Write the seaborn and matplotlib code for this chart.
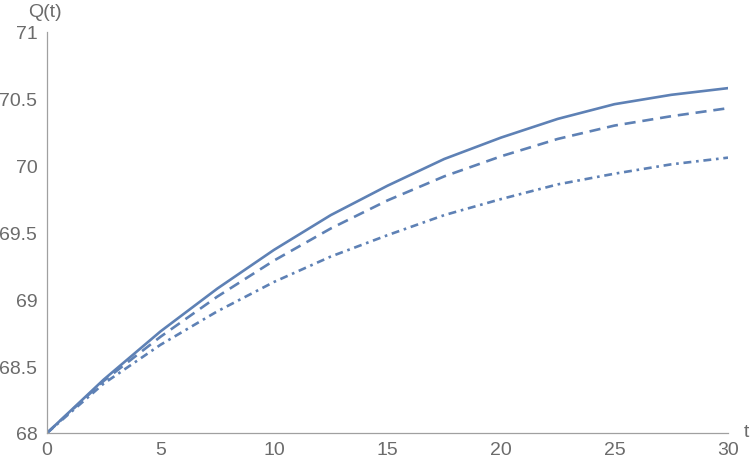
import matplotlib
matplotlib.use("Agg")
import matplotlib.pyplot as plt
import numpy as np
import pandas as pd
import seaborn as sns

# values
t_vals = [0, 2.5, 5, 7.5, 10, 12.5, 15, 17.5, 20, 22.5, 25, 27.5, 30]
q_solid = [68.00, 68.40, 68.76, 69.08, 69.37, 69.63, 69.85, 70.05, 70.21, 70.35, 70.46, 70.53, 70.58]
q_dashed = [68.00, 68.39, 68.72, 69.02, 69.29, 69.53, 69.74, 69.92, 70.07, 70.20, 70.30, 70.37, 70.43]
q_dashdot = [68.00, 68.37, 68.66, 68.91, 69.13, 69.32, 69.48, 69.63, 69.75, 69.86, 69.94, 70.01, 70.06]

x_ticks = [0, 5, 10, 15, 20, 25, 30]
y_ticks = [68, 68.5, 69, 69.5, 70, 70.5, 71]
y_labels = ["68", "68.5", "69", "69.5", "70", "70.5", "71"]

line_color = "#5e81b5"
axis_color = "#a0a0a0"
text_color = "#6b6b6b"

sns.set_style("white")
plt.rcParams['font.family'] = ['Liberation Sans', 'DejaVu Sans']

df = pd.DataFrame({'t': t_vals, 'solid': q_solid, 'dashed': q_dashed, 'dashdot': q_dashdot})

fig = plt.figure(figsize=(7.51, 4.60), dpi=100)
ax = fig.add_axes([47 / 751, 1 - 434 / 460, (728 - 47) / 751, (434 - 33) / 460])

sns.lineplot(data=df, x='t', y='solid', ax=ax, color=line_color, linewidth=1.9)
sns.lineplot(data=df, x='t', y='dashed', ax=ax, color=line_color, linewidth=1.9,
             linestyle=(0, (4.2, 2.6)))
sns.lineplot(data=df, x='t', y='dashdot', ax=ax, color=line_color, linewidth=1.9,
             linestyle=(0, (3.0, 1.8, 1.0, 1.8)))

ax.set_xlim(0, 30)
ax.set_ylim(68, 71)
ax.set_xlabel('')
ax.set_ylabel('')

for side in ['top', 'right']:
    ax.spines[side].set_visible(False)
for side in ['left', 'bottom']:
    ax.spines[side].set_color(axis_color)
    ax.spines[side].set_linewidth(0.9)

ax.set_xticks(x_ticks)
ax.set_xticklabels([str(v) for v in x_ticks])
ax.set_yticks(y_ticks)
ax.set_yticklabels(y_labels)
ax.tick_params(axis='both', direction='in', length=4, width=0.8, color=axis_color,
               labelcolor=text_color, labelsize=14)
ax.tick_params(axis='x', pad=5.5)
ax.tick_params(axis='y', pad=7)

ax.text(-0.1, 71.157, 'Q(t)', ha='center', va='center', fontsize=14, color=text_color,
        transform=ax.transData, clip_on=False)
ax.text(30.7, 68.01, 't', ha='left', va='center', fontsize=14, color=text_color,
        transform=ax.transData, clip_on=False)

fig.savefig('out.png', dpi=100)
